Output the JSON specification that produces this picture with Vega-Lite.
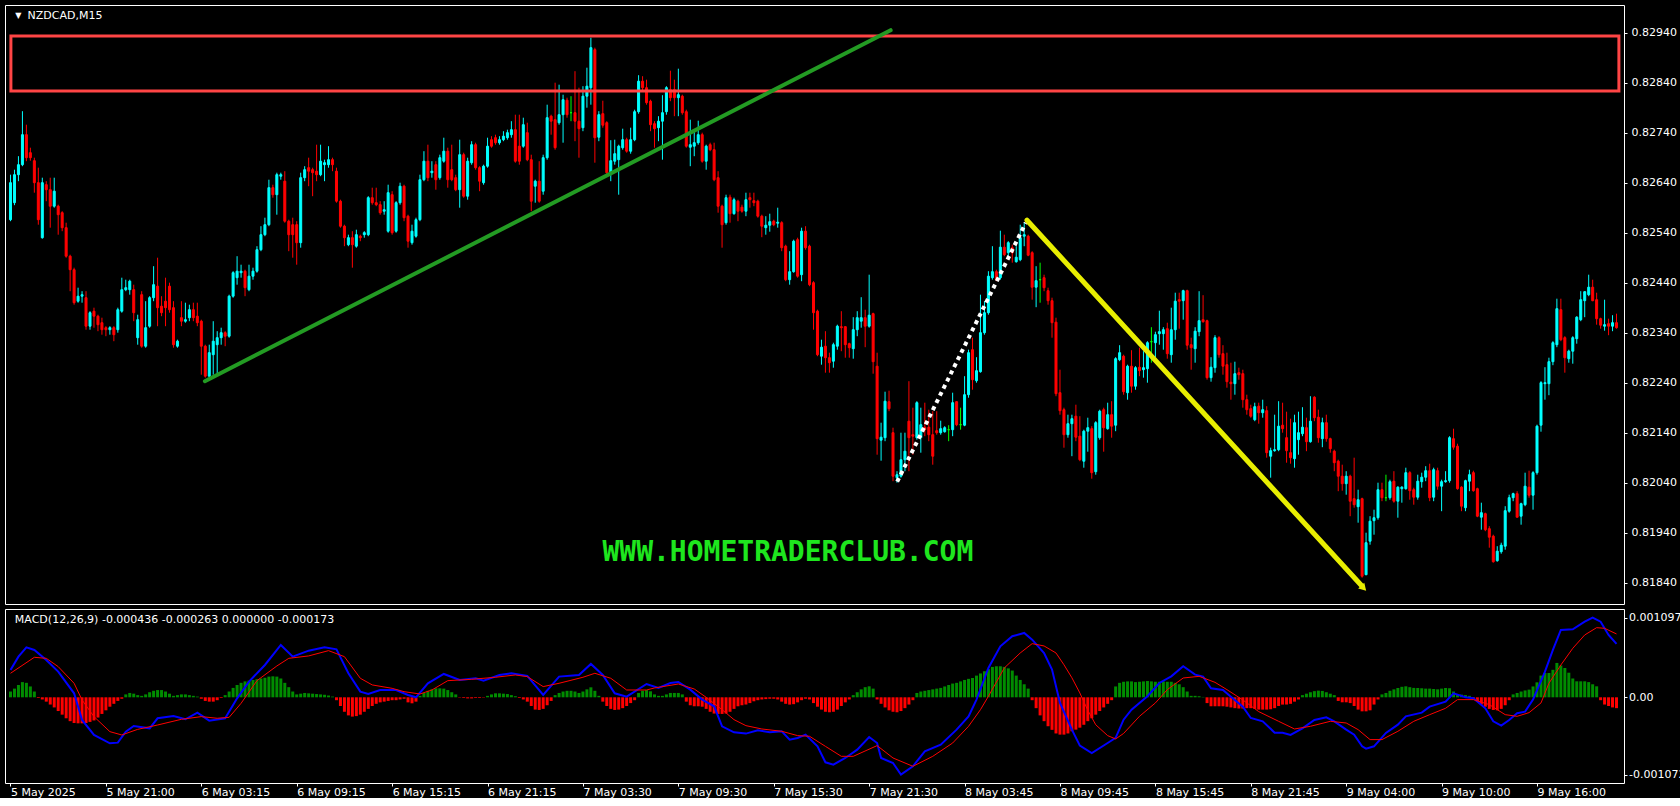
{
"$schema":"https://vega.github.io/schema/vega-lite/v6.json",
"background":"#000000",
"padding":{"left":4,"top":4,"right":0,"bottom":0},
"spacing":3,
"config":{"view":{"stroke":"#ffffff","strokeWidth":1},"font":"DejaVu Sans","axis":{"labelColor":"#ffffff","tickColor":"#ffffff","labelFont":"DejaVu Sans","labelFontSize":11,"domain":false,"grid":false,"title":null,"tickSize":3}},
"datasets":{
"candles":[
{"i":0,"o":0.82566,"h":0.82656,"l":0.82563,"c":0.82640,"m":0.000080},
{"i":1,"o":0.82600,"h":0.82666,"l":0.82595,"c":0.82656,"m":0.000120},
{"i":2,"o":0.82656,"h":0.82693,"l":0.82643,"c":0.82676,"m":0.000170},
{"i":3,"o":0.82676,"h":0.82783,"l":0.82673,"c":0.82736,"m":0.000210},
{"i":4,"o":0.82736,"h":0.82756,"l":0.82683,"c":0.82690,"m":0.000200},
{"i":5,"o":0.82700,"h":0.82710,"l":0.82684,"c":0.82690,"m":0.000150},
{"i":6,"o":0.82684,"h":0.82690,"l":0.82620,"c":0.82640,"m":0.000080},
{"i":7,"o":0.82640,"h":0.82670,"l":0.82556,"c":0.82566,"m":-0.000010},
{"i":8,"o":0.82530,"h":0.82650,"l":0.82528,"c":0.82640,"m":-0.000030},
{"i":9,"o":0.82636,"h":0.82643,"l":0.82603,"c":0.82626,"m":-0.000060},
{"i":10,"o":0.82626,"h":0.82650,"l":0.82550,"c":0.82593,"m":-0.000100},
{"i":11,"o":0.82593,"h":0.82650,"l":0.82590,"c":0.82623,"m":-0.000140},
{"i":12,"o":0.82593,"h":0.82596,"l":0.82536,"c":0.82576,"m":-0.000190},
{"i":13,"o":0.82580,"h":0.82583,"l":0.82543,"c":0.82550,"m":-0.000240},
{"i":14,"o":0.82550,"h":0.82560,"l":0.82490,"c":0.82493,"m":-0.000290},
{"i":15,"o":0.82493,"h":0.82496,"l":0.82423,"c":0.82466,"m":-0.000330},
{"i":16,"o":0.82466,"h":0.82470,"l":0.82396,"c":0.82400,"m":-0.000355},
{"i":17,"o":0.82403,"h":0.82430,"l":0.82400,"c":0.82413,"m":-0.000360},
{"i":18,"o":0.82413,"h":0.82423,"l":0.82400,"c":0.82416,"m":-0.000360},
{"i":19,"o":0.82410,"h":0.82423,"l":0.82346,"c":0.82353,"m":-0.000355},
{"i":20,"o":0.82353,"h":0.82383,"l":0.82346,"c":0.82380,"m":-0.000340},
{"i":21,"o":0.82383,"h":0.82390,"l":0.82350,"c":0.82373,"m":-0.000320},
{"i":22,"o":0.82373,"h":0.82376,"l":0.82343,"c":0.82356,"m":-0.000280},
{"i":23,"o":0.82360,"h":0.82370,"l":0.82336,"c":0.82346,"m":-0.000230},
{"i":24,"o":0.82350,"h":0.82353,"l":0.82333,"c":0.82346,"m":-0.000180},
{"i":25,"o":0.82346,"h":0.82353,"l":0.82336,"c":0.82350,"m":-0.000130},
{"i":26,"o":0.82350,"h":0.82353,"l":0.82323,"c":0.82336,"m":-0.000090},
{"i":27,"o":0.82346,"h":0.82390,"l":0.82340,"c":0.82386,"m":-0.000050},
{"i":28,"o":0.82383,"h":0.82450,"l":0.82380,"c":0.82426,"m":-0.000020},
{"i":29,"o":0.82426,"h":0.82446,"l":0.82423,"c":0.82430,"m":0.000040},
{"i":30,"o":0.82426,"h":0.82446,"l":0.82416,"c":0.82443,"m":0.000060},
{"i":31,"o":0.82426,"h":0.82436,"l":0.82363,"c":0.82380,"m":0.000050},
{"i":32,"o":0.82330,"h":0.82376,"l":0.82316,"c":0.82366,"m":0.000030},
{"i":33,"o":0.82416,"h":0.82423,"l":0.82310,"c":0.82313,"m":0.000020},
{"i":34,"o":0.82313,"h":0.82403,"l":0.82310,"c":0.82350,"m":0.000040},
{"i":35,"o":0.82353,"h":0.82413,"l":0.82350,"c":0.82410,"m":0.000070},
{"i":36,"o":0.82410,"h":0.82473,"l":0.82403,"c":0.82436,"m":0.000090},
{"i":37,"o":0.82433,"h":0.82490,"l":0.82353,"c":0.82390,"m":0.000100},
{"i":38,"o":0.82393,"h":0.82413,"l":0.82373,"c":0.82380,"m":0.000100},
{"i":39,"o":0.82403,"h":0.82450,"l":0.82353,"c":0.82390,"m":0.000080},
{"i":40,"o":0.82433,"h":0.82440,"l":0.82380,"c":0.82386,"m":0.000050},
{"i":41,"o":0.82390,"h":0.82403,"l":0.82310,"c":0.82316,"m":0.000020},
{"i":42,"o":0.82313,"h":0.82326,"l":0.82310,"c":0.82323,"m":0.000030},
{"i":43,"o":0.82370,"h":0.82403,"l":0.82353,"c":0.82363,"m":0.000040},
{"i":44,"o":0.82363,"h":0.82400,"l":0.82360,"c":0.82366,"m":0.000040},
{"i":45,"o":0.82370,"h":0.82396,"l":0.82363,"c":0.82386,"m":0.000030},
{"i":46,"o":0.82386,"h":0.82400,"l":0.82363,"c":0.82370,"m":0.000020},
{"i":47,"o":0.82373,"h":0.82400,"l":0.82353,"c":0.82360,"m":0.000010},
{"i":48,"o":0.82363,"h":0.82366,"l":0.82256,"c":0.82313,"m":-0.000020},
{"i":49,"o":0.82313,"h":0.82316,"l":0.82250,"c":0.82253,"m":-0.000050},
{"i":50,"o":0.82253,"h":0.82316,"l":0.82250,"c":0.82300,"m":-0.000060},
{"i":51,"o":0.82296,"h":0.82363,"l":0.82256,"c":0.82323,"m":-0.000060},
{"i":52,"o":0.82316,"h":0.82343,"l":0.82256,"c":0.82330,"m":-0.000040},
{"i":53,"o":0.82330,"h":0.82350,"l":0.82316,"c":0.82340,"m":-0.000010},
{"i":54,"o":0.82340,"h":0.82343,"l":0.82313,"c":0.82333,"m":0.000030},
{"i":55,"o":0.82333,"h":0.82416,"l":0.82330,"c":0.82413,"m":0.000080},
{"i":56,"o":0.82413,"h":0.82463,"l":0.82410,"c":0.82460,"m":0.000130},
{"i":57,"o":0.82450,"h":0.82493,"l":0.82436,"c":0.82463,"m":0.000170},
{"i":58,"o":0.82460,"h":0.82476,"l":0.82450,"c":0.82463,"m":0.000200},
{"i":59,"o":0.82463,"h":0.82466,"l":0.82413,"c":0.82430,"m":0.000220},
{"i":60,"o":0.82426,"h":0.82476,"l":0.82423,"c":0.82453,"m":0.000230},
{"i":61,"o":0.82453,"h":0.82470,"l":0.82446,"c":0.82463,"m":0.000240},
{"i":62,"o":0.82463,"h":0.82513,"l":0.82460,"c":0.82506,"m":0.000250},
{"i":63,"o":0.82506,"h":0.82553,"l":0.82503,"c":0.82536,"m":0.000260},
{"i":64,"o":0.82536,"h":0.82570,"l":0.82533,"c":0.82556,"m":0.000270},
{"i":65,"o":0.82556,"h":0.82646,"l":0.82553,"c":0.82630,"m":0.000286},
{"i":66,"o":0.82630,"h":0.82636,"l":0.82610,"c":0.82616,"m":0.000290},
{"i":67,"o":0.82616,"h":0.82660,"l":0.82576,"c":0.82656,"m":0.000286},
{"i":68,"o":0.82653,"h":0.82660,"l":0.82646,"c":0.82656,"m":0.000260},
{"i":69,"o":0.82643,"h":0.82663,"l":0.82560,"c":0.82563,"m":0.000200},
{"i":70,"o":0.82563,"h":0.82566,"l":0.82503,"c":0.82536,"m":0.000140},
{"i":71,"o":0.82556,"h":0.82570,"l":0.82490,"c":0.82536,"m":0.000080},
{"i":72,"o":0.82556,"h":0.82563,"l":0.82476,"c":0.82520,"m":0.000040},
{"i":73,"o":0.82520,"h":0.82660,"l":0.82510,"c":0.82650,"m":0.000050},
{"i":74,"o":0.82650,"h":0.82673,"l":0.82643,"c":0.82666,"m":0.000060},
{"i":75,"o":0.82670,"h":0.82690,"l":0.82633,"c":0.82663,"m":0.000055},
{"i":76,"o":0.82666,"h":0.82670,"l":0.82613,"c":0.82660,"m":0.000050},
{"i":77,"o":0.82663,"h":0.82716,"l":0.82643,"c":0.82656,"m":0.000045},
{"i":78,"o":0.82656,"h":0.82716,"l":0.82653,"c":0.82683,"m":0.000040},
{"i":79,"o":0.82676,"h":0.82686,"l":0.82643,"c":0.82680,"m":0.000035},
{"i":80,"o":0.82676,"h":0.82713,"l":0.82670,"c":0.82686,"m":0.000025},
{"i":81,"o":0.82686,"h":0.82690,"l":0.82663,"c":0.82676,"m":0.000010},
{"i":82,"o":0.82663,"h":0.82670,"l":0.82600,"c":0.82603,"m":-0.000040},
{"i":83,"o":0.82603,"h":0.82606,"l":0.82550,"c":0.82553,"m":-0.000120},
{"i":84,"o":0.82553,"h":0.82556,"l":0.82513,"c":0.82530,"m":-0.000200},
{"i":85,"o":0.82516,"h":0.82536,"l":0.82513,"c":0.82530,"m":-0.000250},
{"i":86,"o":0.82530,"h":0.82543,"l":0.82470,"c":0.82516,"m":-0.000267},
{"i":87,"o":0.82513,"h":0.82546,"l":0.82510,"c":0.82536,"m":-0.000260},
{"i":88,"o":0.82533,"h":0.82536,"l":0.82523,"c":0.82530,"m":-0.000240},
{"i":89,"o":0.82536,"h":0.82543,"l":0.82530,"c":0.82540,"m":-0.000200},
{"i":90,"o":0.82536,"h":0.82613,"l":0.82533,"c":0.82610,"m":-0.000160},
{"i":91,"o":0.82610,"h":0.82630,"l":0.82596,"c":0.82600,"m":-0.000120},
{"i":92,"o":0.82600,"h":0.82630,"l":0.82593,"c":0.82596,"m":-0.000090},
{"i":93,"o":0.82596,"h":0.82603,"l":0.82576,"c":0.82580,"m":-0.000070},
{"i":94,"o":0.82583,"h":0.82603,"l":0.82576,"c":0.82586,"m":-0.000060},
{"i":95,"o":0.82543,"h":0.82636,"l":0.82540,"c":0.82620,"m":-0.000050},
{"i":96,"o":0.82616,"h":0.82623,"l":0.82536,"c":0.82540,"m":-0.000040},
{"i":97,"o":0.82543,"h":0.82603,"l":0.82540,"c":0.82600,"m":-0.000040},
{"i":98,"o":0.82600,"h":0.82640,"l":0.82596,"c":0.82633,"m":-0.000030},
{"i":99,"o":0.82633,"h":0.82636,"l":0.82563,"c":0.82570,"m":-0.000020},
{"i":100,"o":0.82573,"h":0.82576,"l":0.82510,"c":0.82523,"m":-0.000070},
{"i":101,"o":0.82520,"h":0.82556,"l":0.82516,"c":0.82543,"m":-0.000083},
{"i":102,"o":0.82533,"h":0.82570,"l":0.82530,"c":0.82566,"m":-0.000060},
{"i":103,"o":0.82566,"h":0.82656,"l":0.82563,"c":0.82646,"m":0.000020},
{"i":104,"o":0.82646,"h":0.82703,"l":0.82643,"c":0.82683,"m":0.000060},
{"i":105,"o":0.82683,"h":0.82716,"l":0.82643,"c":0.82650,"m":0.000090},
{"i":106,"o":0.82660,"h":0.82683,"l":0.82650,"c":0.82663,"m":0.000110},
{"i":107,"o":0.82676,"h":0.82683,"l":0.82626,"c":0.82646,"m":0.000124},
{"i":108,"o":0.82650,"h":0.82696,"l":0.82646,"c":0.82690,"m":0.000124},
{"i":109,"o":0.82683,"h":0.82730,"l":0.82680,"c":0.82703,"m":0.000120},
{"i":110,"o":0.82703,"h":0.82710,"l":0.82630,"c":0.82646,"m":0.000100},
{"i":111,"o":0.82666,"h":0.82716,"l":0.82643,"c":0.82646,"m":0.000070},
{"i":112,"o":0.82650,"h":0.82656,"l":0.82623,"c":0.82626,"m":0.000040},
{"i":113,"o":0.82626,"h":0.82726,"l":0.82590,"c":0.82696,"m":-0.000005},
{"i":114,"o":0.82696,"h":0.82700,"l":0.82610,"c":0.82613,"m":-0.000010},
{"i":115,"o":0.82613,"h":0.82690,"l":0.82606,"c":0.82683,"m":-0.000015},
{"i":116,"o":0.82680,"h":0.82723,"l":0.82676,"c":0.82716,"m":-0.000015},
{"i":117,"o":0.82716,"h":0.82720,"l":0.82666,"c":0.82670,"m":-0.000010},
{"i":118,"o":0.82670,"h":0.82673,"l":0.82623,"c":0.82643,"m":-0.000010},
{"i":119,"o":0.82640,"h":0.82676,"l":0.82636,"c":0.82673,"m":-0.000005},
{"i":120,"o":0.82673,"h":0.82730,"l":0.82670,"c":0.82713,"m":0.000020},
{"i":121,"o":0.82726,"h":0.82733,"l":0.82710,"c":0.82713,"m":0.000040},
{"i":122,"o":0.82730,"h":0.82736,"l":0.82716,"c":0.82720,"m":0.000055},
{"i":123,"o":0.82720,"h":0.82733,"l":0.82716,"c":0.82726,"m":0.000055},
{"i":124,"o":0.82726,"h":0.82743,"l":0.82723,"c":0.82733,"m":0.000050},
{"i":125,"o":0.82730,"h":0.82746,"l":0.82726,"c":0.82740,"m":0.000045},
{"i":126,"o":0.82736,"h":0.82763,"l":0.82730,"c":0.82746,"m":0.000030},
{"i":127,"o":0.82746,"h":0.82776,"l":0.82680,"c":0.82683,"m":0.000015},
{"i":128,"o":0.82713,"h":0.82776,"l":0.82676,"c":0.82683,"m":-0.000010},
{"i":129,"o":0.82713,"h":0.82770,"l":0.82710,"c":0.82756,"m":-0.000030},
{"i":130,"o":0.82740,"h":0.82760,"l":0.82683,"c":0.82686,"m":-0.000060},
{"i":131,"o":0.82686,"h":0.82696,"l":0.82583,"c":0.82603,"m":-0.000120},
{"i":132,"o":0.82633,"h":0.82646,"l":0.82600,"c":0.82643,"m":-0.000170},
{"i":133,"o":0.82643,"h":0.82683,"l":0.82600,"c":0.82603,"m":-0.000175},
{"i":134,"o":0.82623,"h":0.82696,"l":0.82616,"c":0.82690,"m":-0.000160},
{"i":135,"o":0.82690,"h":0.82796,"l":0.82686,"c":0.82770,"m":-0.000110},
{"i":136,"o":0.82773,"h":0.82776,"l":0.82736,"c":0.82763,"m":-0.000050},
{"i":137,"o":0.82766,"h":0.82840,"l":0.82706,"c":0.82710,"m":0.000030},
{"i":138,"o":0.82760,"h":0.82836,"l":0.82756,"c":0.82776,"m":0.000060},
{"i":139,"o":0.82776,"h":0.82816,"l":0.82720,"c":0.82806,"m":0.000080},
{"i":140,"o":0.82805,"h":0.82810,"l":0.82770,"c":0.82776,"m":0.000090},
{"i":141,"o":0.82780,"h":0.82813,"l":0.82763,"c":0.82780,"m":0.000090},
{"i":142,"o":0.82780,"h":0.82863,"l":0.82723,"c":0.82763,"m":0.000080},
{"i":143,"o":0.82763,"h":0.82830,"l":0.82690,"c":0.82748,"m":0.000060},
{"i":144,"o":0.82750,"h":0.82833,"l":0.82743,"c":0.82813,"m":0.000080},
{"i":145,"o":0.82813,"h":0.82870,"l":0.82790,"c":0.82833,"m":0.000110},
{"i":146,"o":0.82830,"h":0.82930,"l":0.82796,"c":0.82910,"m":0.000138},
{"i":147,"o":0.82906,"h":0.82910,"l":0.82680,"c":0.82730,"m":0.000090},
{"i":148,"o":0.82731,"h":0.82783,"l":0.82723,"c":0.82776,"m":0.000020},
{"i":149,"o":0.82778,"h":0.82804,"l":0.82750,"c":0.82755,"m":-0.000060},
{"i":150,"o":0.82760,"h":0.82763,"l":0.82656,"c":0.82660,"m":-0.000120},
{"i":151,"o":0.82660,"h":0.82725,"l":0.82643,"c":0.82684,"m":-0.000160},
{"i":152,"o":0.82683,"h":0.82726,"l":0.82676,"c":0.82698,"m":-0.000175},
{"i":153,"o":0.82686,"h":0.82716,"l":0.82616,"c":0.82713,"m":-0.000170},
{"i":154,"o":0.82710,"h":0.82748,"l":0.82706,"c":0.82726,"m":-0.000150},
{"i":155,"o":0.82726,"h":0.82730,"l":0.82700,"c":0.82703,"m":-0.000120},
{"i":156,"o":0.82703,"h":0.82750,"l":0.82698,"c":0.82726,"m":-0.000080},
{"i":157,"o":0.82726,"h":0.82786,"l":0.82723,"c":0.82782,"m":-0.000040},
{"i":158,"o":0.82782,"h":0.82855,"l":0.82778,"c":0.82843,"m":0.000060},
{"i":159,"o":0.82843,"h":0.82853,"l":0.82823,"c":0.82830,"m":0.000090},
{"i":160,"o":0.82830,"h":0.82846,"l":0.82796,"c":0.82800,"m":0.000100},
{"i":161,"o":0.82803,"h":0.82806,"l":0.82743,"c":0.82756,"m":0.000083},
{"i":162,"o":0.82758,"h":0.82763,"l":0.82710,"c":0.82748,"m":0.000040},
{"i":163,"o":0.82750,"h":0.82773,"l":0.82723,"c":0.82763,"m":0.000020},
{"i":164,"o":0.82763,"h":0.82815,"l":0.82686,"c":0.82780,"m":0.000020},
{"i":165,"o":0.82782,"h":0.82833,"l":0.82776,"c":0.82830,"m":0.000040},
{"i":166,"o":0.82826,"h":0.82864,"l":0.82803,"c":0.82810,"m":0.000060},
{"i":167,"o":0.82826,"h":0.82846,"l":0.82773,"c":0.82810,"m":0.000060},
{"i":168,"o":0.82810,"h":0.82868,"l":0.82773,"c":0.82816,"m":0.000060},
{"i":169,"o":0.82813,"h":0.82816,"l":0.82776,"c":0.82780,"m":0.000040},
{"i":170,"o":0.82782,"h":0.82786,"l":0.82710,"c":0.82713,"m":-0.000060},
{"i":171,"o":0.82711,"h":0.82766,"l":0.82673,"c":0.82716,"m":-0.000110},
{"i":172,"o":0.82713,"h":0.82743,"l":0.82693,"c":0.82720,"m":-0.000124},
{"i":173,"o":0.82720,"h":0.82764,"l":0.82716,"c":0.82736,"m":-0.000124},
{"i":174,"o":0.82736,"h":0.82740,"l":0.82680,"c":0.82683,"m":-0.000130},
{"i":175,"o":0.82683,"h":0.82716,"l":0.82666,"c":0.82713,"m":-0.000160},
{"i":176,"o":0.82716,"h":0.82720,"l":0.82703,"c":0.82706,"m":-0.000200},
{"i":177,"o":0.82706,"h":0.82720,"l":0.82643,"c":0.82646,"m":-0.000225},
{"i":178,"o":0.82650,"h":0.82663,"l":0.82580,"c":0.82593,"m":-0.000230},
{"i":179,"o":0.82593,"h":0.82596,"l":0.82510,"c":0.82556,"m":-0.000230},
{"i":180,"o":0.82560,"h":0.82616,"l":0.82556,"c":0.82610,"m":-0.000225},
{"i":181,"o":0.82611,"h":0.82616,"l":0.82560,"c":0.82578,"m":-0.000200},
{"i":182,"o":0.82578,"h":0.82610,"l":0.82576,"c":0.82606,"m":-0.000160},
{"i":183,"o":0.82603,"h":0.82606,"l":0.82563,"c":0.82583,"m":-0.000124},
{"i":184,"o":0.82591,"h":0.82596,"l":0.82580,"c":0.82583,"m":-0.000110},
{"i":185,"o":0.82583,"h":0.82620,"l":0.82573,"c":0.82606,"m":-0.000100},
{"i":186,"o":0.82610,"h":0.82620,"l":0.82590,"c":0.82606,"m":-0.000080},
{"i":187,"o":0.82604,"h":0.82620,"l":0.82593,"c":0.82600,"m":-0.000055},
{"i":188,"o":0.82603,"h":0.82606,"l":0.82570,"c":0.82573,"m":-0.000040},
{"i":189,"o":0.82573,"h":0.82576,"l":0.82531,"c":0.82553,"m":-0.000030},
{"i":190,"o":0.82550,"h":0.82573,"l":0.82536,"c":0.82555,"m":-0.000025},
{"i":191,"o":0.82555,"h":0.82578,"l":0.82542,"c":0.82562,"m":-0.000020},
{"i":192,"o":0.82563,"h":0.82566,"l":0.82553,"c":0.82556,"m":-0.000020},
{"i":193,"o":0.82559,"h":0.82590,"l":0.82550,"c":0.82561,"m":-0.000030},
{"i":194,"o":0.82560,"h":0.82563,"l":0.82503,"c":0.82510,"m":-0.000060},
{"i":195,"o":0.82513,"h":0.82516,"l":0.82443,"c":0.82446,"m":-0.000090},
{"i":196,"o":0.82446,"h":0.82503,"l":0.82436,"c":0.82462,"m":-0.000101},
{"i":197,"o":0.82462,"h":0.82526,"l":0.82460,"c":0.82523,"m":-0.000095},
{"i":198,"o":0.82526,"h":0.82530,"l":0.82450,"c":0.82453,"m":-0.000070},
{"i":199,"o":0.82456,"h":0.82550,"l":0.82443,"c":0.82543,"m":-0.000040},
{"i":200,"o":0.82543,"h":0.82553,"l":0.82506,"c":0.82510,"m":-0.000020},
{"i":201,"o":0.82513,"h":0.82516,"l":0.82433,"c":0.82436,"m":-0.000030},
{"i":202,"o":0.82440,"h":0.82443,"l":0.82346,"c":0.82380,"m":-0.000080},
{"i":203,"o":0.82383,"h":0.82386,"l":0.82293,"c":0.82296,"m":-0.000130},
{"i":204,"o":0.82293,"h":0.82326,"l":0.82276,"c":0.82311,"m":-0.000170},
{"i":205,"o":0.82313,"h":0.82343,"l":0.82260,"c":0.82290,"m":-0.000200},
{"i":206,"o":0.82290,"h":0.82300,"l":0.82260,"c":0.82280,"m":-0.000207},
{"i":207,"o":0.82283,"h":0.82320,"l":0.82270,"c":0.82316,"m":-0.000200},
{"i":208,"o":0.82313,"h":0.82356,"l":0.82306,"c":0.82353,"m":-0.000170},
{"i":209,"o":0.82352,"h":0.82383,"l":0.82303,"c":0.82350,"m":-0.000120},
{"i":210,"o":0.82352,"h":0.82353,"l":0.82290,"c":0.82316,"m":-0.000070},
{"i":211,"o":0.82318,"h":0.82320,"l":0.82290,"c":0.82310,"m":-0.000030},
{"i":212,"o":0.82308,"h":0.82371,"l":0.82288,"c":0.82346,"m":0.000030},
{"i":213,"o":0.82346,"h":0.82383,"l":0.82333,"c":0.82370,"m":0.000070},
{"i":214,"o":0.82363,"h":0.82411,"l":0.82350,"c":0.82370,"m":0.000110},
{"i":215,"o":0.82370,"h":0.82386,"l":0.82311,"c":0.82353,"m":0.000140},
{"i":216,"o":0.82353,"h":0.82456,"l":0.82350,"c":0.82375,"m":0.000152},
{"i":217,"o":0.82378,"h":0.82380,"l":0.82258,"c":0.82282,"m":0.000120},
{"i":218,"o":0.82273,"h":0.82300,"l":0.82096,"c":0.82128,"m":-0.000030},
{"i":219,"o":0.82125,"h":0.82160,"l":0.82084,"c":0.82131,"m":-0.000090},
{"i":220,"o":0.82130,"h":0.82222,"l":0.82123,"c":0.82203,"m":-0.000140},
{"i":221,"o":0.82202,"h":0.82224,"l":0.82183,"c":0.82188,"m":-0.000180},
{"i":222,"o":0.82140,"h":0.82150,"l":0.82043,"c":0.82053,"m":-0.000200},
{"i":223,"o":0.82050,"h":0.82063,"l":0.82040,"c":0.82056,"m":-0.000207},
{"i":224,"o":0.82053,"h":0.82140,"l":0.82050,"c":0.82086,"m":-0.000190},
{"i":225,"o":0.82086,"h":0.82140,"l":0.82063,"c":0.82103,"m":-0.000150},
{"i":226,"o":0.82163,"h":0.82243,"l":0.82063,"c":0.82130,"m":-0.000100},
{"i":227,"o":0.82136,"h":0.82190,"l":0.82096,"c":0.82133,"m":-0.000040},
{"i":228,"o":0.82130,"h":0.82203,"l":0.82126,"c":0.82200,"m":0.000060},
{"i":229,"o":0.82130,"h":0.82190,"l":0.82100,"c":0.82156,"m":0.000080},
{"i":230,"o":0.82151,"h":0.82200,"l":0.82133,"c":0.82146,"m":0.000090},
{"i":231,"o":0.82151,"h":0.82186,"l":0.82123,"c":0.82136,"m":0.000100},
{"i":232,"o":0.82136,"h":0.82183,"l":0.82076,"c":0.82093,"m":0.000110},
{"i":233,"o":0.82144,"h":0.82183,"l":0.82136,"c":0.82140,"m":0.000120},
{"i":234,"o":0.82140,"h":0.82164,"l":0.82136,"c":0.82148,"m":0.000130},
{"i":235,"o":0.82142,"h":0.82153,"l":0.82140,"c":0.82150,"m":0.000150},
{"i":236,"o":0.82146,"h":0.82155,"l":0.82123,"c":0.82146,"m":0.000170},
{"i":237,"o":0.82146,"h":0.82220,"l":0.82133,"c":0.82200,"m":0.000190},
{"i":238,"o":0.82202,"h":0.82203,"l":0.82153,"c":0.82156,"m":0.000200},
{"i":239,"o":0.82156,"h":0.82190,"l":0.82146,"c":0.82156,"m":0.000220},
{"i":240,"o":0.82155,"h":0.82253,"l":0.82153,"c":0.82216,"m":0.000240},
{"i":241,"o":0.82216,"h":0.82306,"l":0.82210,"c":0.82300,"m":0.000255},
{"i":242,"o":0.82306,"h":0.82330,"l":0.82226,"c":0.82246,"m":0.000267},
{"i":243,"o":0.82244,"h":0.82291,"l":0.82240,"c":0.82264,"m":0.000300},
{"i":244,"o":0.82262,"h":0.82416,"l":0.82260,"c":0.82340,"m":0.000330},
{"i":245,"o":0.82340,"h":0.82403,"l":0.82336,"c":0.82380,"m":0.000360},
{"i":246,"o":0.82380,"h":0.82463,"l":0.82376,"c":0.82453,"m":0.000390},
{"i":247,"o":0.82450,"h":0.82513,"l":0.82446,"c":0.82462,"m":0.000420},
{"i":248,"o":0.82462,"h":0.82466,"l":0.82443,"c":0.82446,"m":0.000429},
{"i":249,"o":0.82450,"h":0.82544,"l":0.82446,"c":0.82511,"m":0.000429},
{"i":250,"o":0.82511,"h":0.82536,"l":0.82493,"c":0.82496,"m":0.000420},
{"i":251,"o":0.82500,"h":0.82523,"l":0.82493,"c":0.82520,"m":0.000400},
{"i":252,"o":0.82510,"h":0.82516,"l":0.82480,"c":0.82500,"m":0.000370},
{"i":253,"o":0.82482,"h":0.82513,"l":0.82480,"c":0.82491,"m":0.000300},
{"i":254,"o":0.82486,"h":0.82556,"l":0.82483,"c":0.82530,"m":0.000240},
{"i":255,"o":0.82533,"h":0.82560,"l":0.82513,"c":0.82536,"m":0.000180},
{"i":256,"o":0.82533,"h":0.82536,"l":0.82493,"c":0.82495,"m":0.000120},
{"i":257,"o":0.82500,"h":0.82503,"l":0.82406,"c":0.82431,"m":-0.000040},
{"i":258,"o":0.82431,"h":0.82473,"l":0.82391,"c":0.82444,"m":-0.000150},
{"i":259,"o":0.82446,"h":0.82480,"l":0.82400,"c":0.82446,"m":-0.000250},
{"i":260,"o":0.82450,"h":0.82456,"l":0.82423,"c":0.82430,"m":-0.000330},
{"i":261,"o":0.82424,"h":0.82430,"l":0.82396,"c":0.82404,"m":-0.000400},
{"i":262,"o":0.82404,"h":0.82410,"l":0.82330,"c":0.82360,"m":-0.000450},
{"i":263,"o":0.82361,"h":0.82370,"l":0.82213,"c":0.82218,"m":-0.000500},
{"i":264,"o":0.82220,"h":0.82266,"l":0.82176,"c":0.82184,"m":-0.000516},
{"i":265,"o":0.82186,"h":0.82190,"l":0.82110,"c":0.82136,"m":-0.000516},
{"i":266,"o":0.82136,"h":0.82176,"l":0.82130,"c":0.82158,"m":-0.000500},
{"i":267,"o":0.82158,"h":0.82176,"l":0.82093,"c":0.82168,"m":-0.000470},
{"i":268,"o":0.82173,"h":0.82196,"l":0.82123,"c":0.82131,"m":-0.000447},
{"i":269,"o":0.82133,"h":0.82173,"l":0.82083,"c":0.82086,"m":-0.000420},
{"i":270,"o":0.82083,"h":0.82146,"l":0.82070,"c":0.82143,"m":-0.000380},
{"i":271,"o":0.82143,"h":0.82170,"l":0.82102,"c":0.82150,"m":-0.000330},
{"i":272,"o":0.82148,"h":0.82153,"l":0.82048,"c":0.82060,"m":-0.000290},
{"i":273,"o":0.82062,"h":0.82163,"l":0.82056,"c":0.82160,"m":-0.000240},
{"i":274,"o":0.82130,"h":0.82186,"l":0.82126,"c":0.82183,"m":-0.000190},
{"i":275,"o":0.82186,"h":0.82190,"l":0.82102,"c":0.82150,"m":-0.000140},
{"i":276,"o":0.82148,"h":0.82200,"l":0.82146,"c":0.82176,"m":-0.000090},
{"i":277,"o":0.82176,"h":0.82203,"l":0.82130,"c":0.82153,"m":-0.000040},
{"i":278,"o":0.82155,"h":0.82291,"l":0.82143,"c":0.82288,"m":0.000150},
{"i":279,"o":0.82286,"h":0.82315,"l":0.82283,"c":0.82300,"m":0.000200},
{"i":280,"o":0.82293,"h":0.82296,"l":0.82216,"c":0.82222,"m":0.000215},
{"i":281,"o":0.82220,"h":0.82276,"l":0.82206,"c":0.82273,"m":0.000220},
{"i":282,"o":0.82273,"h":0.82305,"l":0.82220,"c":0.82233,"m":0.000220},
{"i":283,"o":0.82233,"h":0.82273,"l":0.82226,"c":0.82270,"m":0.000210},
{"i":284,"o":0.82271,"h":0.82310,"l":0.82253,"c":0.82264,"m":0.000215},
{"i":285,"o":0.82266,"h":0.82303,"l":0.82250,"c":0.82270,"m":0.000220},
{"i":286,"o":0.82268,"h":0.82323,"l":0.82240,"c":0.82320,"m":0.000225},
{"i":287,"o":0.82322,"h":0.82351,"l":0.82280,"c":0.82322,"m":0.000220},
{"i":288,"o":0.82320,"h":0.82342,"l":0.82290,"c":0.82336,"m":0.000215},
{"i":289,"o":0.82338,"h":0.82384,"l":0.82316,"c":0.82342,"m":0.000215},
{"i":290,"o":0.82338,"h":0.82351,"l":0.82306,"c":0.82346,"m":0.000220},
{"i":291,"o":0.82348,"h":0.82360,"l":0.82288,"c":0.82298,"m":0.000215},
{"i":292,"o":0.82296,"h":0.82390,"l":0.82280,"c":0.82346,"m":0.000215},
{"i":293,"o":0.82346,"h":0.82420,"l":0.82326,"c":0.82403,"m":0.000200},
{"i":294,"o":0.82406,"h":0.82420,"l":0.82348,"c":0.82403,"m":0.000180},
{"i":295,"o":0.82404,"h":0.82426,"l":0.82366,"c":0.82424,"m":0.000140},
{"i":296,"o":0.82424,"h":0.82426,"l":0.82306,"c":0.82315,"m":0.000080},
{"i":297,"o":0.82316,"h":0.82330,"l":0.82266,"c":0.82310,"m":0.000020},
{"i":298,"o":0.82308,"h":0.82351,"l":0.82280,"c":0.82343,"m":0.000020},
{"i":299,"o":0.82342,"h":0.82423,"l":0.82333,"c":0.82364,"m":0.000015},
{"i":300,"o":0.82366,"h":0.82415,"l":0.82360,"c":0.82362,"m":0.000005},
{"i":301,"o":0.82364,"h":0.82366,"l":0.82246,"c":0.82250,"m":-0.000080},
{"i":302,"o":0.82250,"h":0.82291,"l":0.82242,"c":0.82271,"m":-0.000124},
{"i":303,"o":0.82270,"h":0.82335,"l":0.82260,"c":0.82330,"m":-0.000124},
{"i":304,"o":0.82330,"h":0.82333,"l":0.82290,"c":0.82296,"m":-0.000124},
{"i":305,"o":0.82298,"h":0.82315,"l":0.82256,"c":0.82273,"m":-0.000124},
{"i":306,"o":0.82276,"h":0.82300,"l":0.82230,"c":0.82242,"m":-0.000130},
{"i":307,"o":0.82241,"h":0.82280,"l":0.82206,"c":0.82238,"m":-0.000140},
{"i":308,"o":0.82238,"h":0.82282,"l":0.82216,"c":0.82258,"m":-0.000150},
{"i":309,"o":0.82260,"h":0.82270,"l":0.82246,"c":0.82256,"m":-0.000155},
{"i":310,"o":0.82258,"h":0.82266,"l":0.82190,"c":0.82206,"m":-0.000155},
{"i":311,"o":0.82206,"h":0.82216,"l":0.82176,"c":0.82186,"m":-0.000150},
{"i":312,"o":0.82188,"h":0.82196,"l":0.82170,"c":0.82173,"m":-0.000150},
{"i":313,"o":0.82166,"h":0.82200,"l":0.82163,"c":0.82192,"m":-0.000160},
{"i":314,"o":0.82193,"h":0.82200,"l":0.82158,"c":0.82180,"m":-0.000170},
{"i":315,"o":0.82180,"h":0.82206,"l":0.82170,"c":0.82186,"m":-0.000170},
{"i":316,"o":0.82184,"h":0.82193,"l":0.82090,"c":0.82100,"m":-0.000170},
{"i":317,"o":0.82093,"h":0.82110,"l":0.82050,"c":0.82104,"m":-0.000165},
{"i":318,"o":0.82104,"h":0.82176,"l":0.82102,"c":0.82106,"m":-0.000150},
{"i":319,"o":0.82106,"h":0.82203,"l":0.82103,"c":0.82153,"m":-0.000120},
{"i":320,"o":0.82155,"h":0.82200,"l":0.82140,"c":0.82148,"m":-0.000101},
{"i":321,"o":0.82130,"h":0.82182,"l":0.82080,"c":0.82104,"m":-0.000100},
{"i":322,"o":0.82100,"h":0.82168,"l":0.82078,"c":0.82090,"m":-0.000090},
{"i":323,"o":0.82088,"h":0.82176,"l":0.82070,"c":0.82160,"m":-0.000060},
{"i":324,"o":0.82126,"h":0.82182,"l":0.82096,"c":0.82140,"m":-0.000030},
{"i":325,"o":0.82138,"h":0.82191,"l":0.82133,"c":0.82151,"m":0.000030},
{"i":326,"o":0.82150,"h":0.82170,"l":0.82103,"c":0.82122,"m":0.000050},
{"i":327,"o":0.82122,"h":0.82213,"l":0.82120,"c":0.82163,"m":0.000070},
{"i":328,"o":0.82211,"h":0.82213,"l":0.82163,"c":0.82170,"m":0.000085},
{"i":329,"o":0.82171,"h":0.82186,"l":0.82120,"c":0.82130,"m":0.000092},
{"i":330,"o":0.82128,"h":0.82170,"l":0.82111,"c":0.82160,"m":0.000088},
{"i":331,"o":0.82160,"h":0.82176,"l":0.82122,"c":0.82128,"m":0.000070},
{"i":332,"o":0.82128,"h":0.82130,"l":0.82100,"c":0.82108,"m":0.000050},
{"i":333,"o":0.82103,"h":0.82106,"l":0.82063,"c":0.82080,"m":0.000030},
{"i":334,"o":0.82083,"h":0.82086,"l":0.82023,"c":0.82053,"m":-0.000050},
{"i":335,"o":0.82053,"h":0.82076,"l":0.82024,"c":0.82038,"m":-0.000069},
{"i":336,"o":0.82038,"h":0.82063,"l":0.82016,"c":0.82053,"m":-0.000069},
{"i":337,"o":0.82053,"h":0.82056,"l":0.81973,"c":0.82003,"m":-0.000080},
{"i":338,"o":0.82008,"h":0.82090,"l":0.81990,"c":0.81996,"m":-0.000120},
{"i":339,"o":0.81992,"h":0.82026,"l":0.81960,"c":0.82006,"m":-0.000170},
{"i":340,"o":0.82008,"h":0.82010,"l":0.81850,"c":0.81853,"m":-0.000194},
{"i":341,"o":0.81856,"h":0.81940,"l":0.81855,"c":0.81920,"m":-0.000194},
{"i":342,"o":0.81923,"h":0.81973,"l":0.81916,"c":0.81963,"m":-0.000180},
{"i":343,"o":0.81964,"h":0.81986,"l":0.81936,"c":0.81970,"m":-0.000100},
{"i":344,"o":0.81970,"h":0.82040,"l":0.81966,"c":0.82026,"m":-0.000030},
{"i":345,"o":0.82026,"h":0.82040,"l":0.82003,"c":0.82010,"m":0.000040},
{"i":346,"o":0.82010,"h":0.82056,"l":0.82003,"c":0.82010,"m":0.000060},
{"i":347,"o":0.82010,"h":0.82046,"l":0.82006,"c":0.82042,"m":0.000090},
{"i":348,"o":0.82043,"h":0.82063,"l":0.82000,"c":0.82003,"m":0.000110},
{"i":349,"o":0.82003,"h":0.82033,"l":0.81970,"c":0.82031,"m":0.000129},
{"i":350,"o":0.82028,"h":0.82033,"l":0.82000,"c":0.82031,"m":0.000145},
{"i":351,"o":0.82028,"h":0.82070,"l":0.82026,"c":0.82060,"m":0.000152},
{"i":352,"o":0.82060,"h":0.82063,"l":0.82006,"c":0.82024,"m":0.000140},
{"i":353,"o":0.82026,"h":0.82030,"l":0.81996,"c":0.82011,"m":0.000130},
{"i":354,"o":0.82011,"h":0.82056,"l":0.82006,"c":0.82043,"m":0.000129},
{"i":355,"o":0.82042,"h":0.82060,"l":0.82030,"c":0.82051,"m":0.000125},
{"i":356,"o":0.82051,"h":0.82073,"l":0.82043,"c":0.82064,"m":0.000120},
{"i":357,"o":0.82064,"h":0.82078,"l":0.82003,"c":0.82010,"m":0.000120},
{"i":358,"o":0.82011,"h":0.82070,"l":0.82003,"c":0.82066,"m":0.000115},
{"i":359,"o":0.82064,"h":0.82070,"l":0.82026,"c":0.82033,"m":0.000110},
{"i":360,"o":0.82033,"h":0.82046,"l":0.81983,"c":0.82042,"m":0.000120},
{"i":361,"o":0.82042,"h":0.82063,"l":0.82040,"c":0.82044,"m":0.000129},
{"i":362,"o":0.82044,"h":0.82133,"l":0.82040,"c":0.82130,"m":0.000125},
{"i":363,"o":0.82128,"h":0.82148,"l":0.82106,"c":0.82111,"m":0.000080},
{"i":364,"o":0.82113,"h":0.82118,"l":0.82026,"c":0.82028,"m":0.000037},
{"i":365,"o":0.82031,"h":0.82033,"l":0.81983,"c":0.81993,"m":0.000037},
{"i":366,"o":0.81990,"h":0.82046,"l":0.81983,"c":0.82044,"m":0.000030},
{"i":367,"o":0.82043,"h":0.82066,"l":0.82023,"c":0.82056,"m":0.000020},
{"i":368,"o":0.82060,"h":0.82064,"l":0.82022,"c":0.82024,"m":-0.000030},
{"i":369,"o":0.82028,"h":0.82030,"l":0.81971,"c":0.81973,"m":-0.000060},
{"i":370,"o":0.81971,"h":0.82000,"l":0.81946,"c":0.81980,"m":-0.000100},
{"i":371,"o":0.81978,"h":0.81980,"l":0.81943,"c":0.81946,"m":-0.000130},
{"i":372,"o":0.81948,"h":0.81953,"l":0.81910,"c":0.81931,"m":-0.000160},
{"i":373,"o":0.81933,"h":0.81936,"l":0.81880,"c":0.81882,"m":-0.000175},
{"i":374,"o":0.81884,"h":0.81913,"l":0.81882,"c":0.81903,"m":-0.000180},
{"i":375,"o":0.81902,"h":0.81920,"l":0.81898,"c":0.81915,"m":-0.000160},
{"i":376,"o":0.81913,"h":0.81993,"l":0.81906,"c":0.81984,"m":-0.000110},
{"i":377,"o":0.81983,"h":0.82016,"l":0.81980,"c":0.82010,"m":-0.000040},
{"i":378,"o":0.82010,"h":0.82020,"l":0.82003,"c":0.82018,"m":0.000040},
{"i":379,"o":0.82018,"h":0.82023,"l":0.81970,"c":0.81971,"m":0.000060},
{"i":380,"o":0.81973,"h":0.82000,"l":0.81956,"c":0.81998,"m":0.000080},
{"i":381,"o":0.81996,"h":0.82060,"l":0.81993,"c":0.82033,"m":0.000095},
{"i":382,"o":0.82031,"h":0.82064,"l":0.82010,"c":0.82015,"m":0.000106},
{"i":383,"o":0.82015,"h":0.82063,"l":0.81986,"c":0.82060,"m":0.000150},
{"i":384,"o":0.82060,"h":0.82156,"l":0.82056,"c":0.82153,"m":0.000207},
{"i":385,"o":0.82155,"h":0.82243,"l":0.82142,"c":0.82240,"m":0.000300},
{"i":386,"o":0.82238,"h":0.82271,"l":0.82206,"c":0.82240,"m":0.000336},
{"i":387,"o":0.82238,"h":0.82290,"l":0.82215,"c":0.82282,"m":0.000336},
{"i":388,"o":0.82282,"h":0.82323,"l":0.82275,"c":0.82320,"m":0.000380},
{"i":389,"o":0.82316,"h":0.82408,"l":0.82311,"c":0.82388,"m":0.000475},
{"i":390,"o":0.82386,"h":0.82408,"l":0.82323,"c":0.82326,"m":0.000440},
{"i":391,"o":0.82330,"h":0.82333,"l":0.82260,"c":0.82290,"m":0.000405},
{"i":392,"o":0.82288,"h":0.82306,"l":0.82280,"c":0.82303,"m":0.000340},
{"i":393,"o":0.82303,"h":0.82333,"l":0.82278,"c":0.82330,"m":0.000260},
{"i":394,"o":0.82328,"h":0.82373,"l":0.82318,"c":0.82371,"m":0.000221},
{"i":395,"o":0.82366,"h":0.82423,"l":0.82363,"c":0.82406,"m":0.000221},
{"i":396,"o":0.82404,"h":0.82423,"l":0.82371,"c":0.82422,"m":0.000221},
{"i":397,"o":0.82416,"h":0.82456,"l":0.82413,"c":0.82431,"m":0.000210},
{"i":398,"o":0.82431,"h":0.82446,"l":0.82403,"c":0.82404,"m":0.000180},
{"i":399,"o":0.82406,"h":0.82420,"l":0.82356,"c":0.82368,"m":0.000152},
{"i":400,"o":0.82368,"h":0.82370,"l":0.82348,"c":0.82355,"m":-0.000040},
{"i":401,"o":0.82353,"h":0.82406,"l":0.82344,"c":0.82356,"m":-0.000100},
{"i":402,"o":0.82358,"h":0.82368,"l":0.82335,"c":0.82353,"m":-0.000120},
{"i":403,"o":0.82353,"h":0.82375,"l":0.82343,"c":0.82360,"m":-0.000140},
{"i":404,"o":0.82360,"h":0.82378,"l":0.82348,"c":0.82350,"m":-0.000150}
],
"macd":[
{"i":0,"v":0.000378},{"i":2,"v":0.000562},{"i":4,"v":0.000691},{"i":6,"v":0.000654},{"i":9,"v":0.000516},{"i":12,"v":0.000355},{"i":16,"v":0.000055},{"i":18,"v":-0.000313},{"i":21,"v":-0.000521},{"i":25,"v":-0.000636},{"i":27,"v":-0.000627},{"i":29,"v":-0.000475},{"i":31,"v":-0.000396},{"i":35,"v":-0.000429},{"i":37,"v":-0.00029},{"i":41,"v":-0.000258},{"i":44,"v":-0.000304},{"i":47,"v":-0.000212},{"i":50,"v":-0.000323},{"i":54,"v":-0.00029},{"i":57,"v":-0.000014},{"i":60,"v":0.000217},{"i":64,"v":0.000447},{"i":68,"v":0.000724},{"i":71,"v":0.000562},{"i":75,"v":0.000645},{"i":79,"v":0.000691},{"i":82,"v":0.000664},{"i":85,"v":0.000332},{"i":88,"v":0.000078},{"i":90,"v":0.000046},{"i":93,"v":0.000101},{"i":97,"v":0.000101},{"i":100,"v":0.000032},{"i":102,"v":0},{"i":105,"v":0.000194},{"i":109,"v":0.000323},{"i":113,"v":0.00024},{"i":117,"v":0.000263},{"i":119,"v":0.00023},{"i":123,"v":0.000309},{"i":126,"v":0.000332},{"i":130,"v":0.000295},{"i":134,"v":0.000032},{"i":138,"v":0.000286},{"i":143,"v":0.000309},{"i":146,"v":0.000461},{"i":149,"v":0.000309},{"i":152,"v":0.000055},{"i":155,"v":0.000009},{"i":160,"v":0.000184},{"i":163,"v":0.000129},{"i":166,"v":0.000198},{"i":168,"v":0.000212},{"i":171,"v":0.000106},{"i":174,"v":-0.000032},{"i":177,"v":-0.000124},{"i":179,"v":-0.000401},{"i":182,"v":-0.000484},{"i":185,"v":-0.000502},{"i":188,"v":-0.000456},{"i":191,"v":-0.000484},{"i":194,"v":-0.00047},{"i":196,"v":-0.000585},{"i":198,"v":-0.000562},{"i":200,"v":-0.000516},{"i":203,"v":-0.000678},{"i":205,"v":-0.000899},{"i":207,"v":-0.000931},{"i":210,"v":-0.000839},{"i":213,"v":-0.000724},{"i":216,"v":-0.000549},{"i":218,"v":-0.000632},{"i":219,"v":-0.000839},{"i":222,"v":-0.000908},{"i":224,"v":-0.00107},{"i":227,"v":-0.000954},{"i":230,"v":-0.000747},{"i":234,"v":-0.000655},{"i":238,"v":-0.000447},{"i":241,"v":-0.000263},{"i":243,"v":-0.000032},{"i":246,"v":0.000406},{"i":249,"v":0.000705},{"i":252,"v":0.000844},{"i":255,"v":0.00089},{"i":257,"v":0.000797},{"i":260,"v":0.000613},{"i":262,"v":0.000383},{"i":264,"v":-0.000078},{"i":267,"v":-0.000447},{"i":269,"v":-0.000668},{"i":272,"v":-0.00077},{"i":276,"v":-0.000632},{"i":278,"v":-0.000562},{"i":280,"v":-0.000309},{"i":282,"v":-0.000171},{"i":286,"v":0.000014},{"i":289,"v":0.000198},{"i":292,"v":0.00029},{"i":295,"v":0.000429},{"i":298,"v":0.000313},{"i":300,"v":0.000286},{"i":302,"v":0.000124},{"i":305,"v":0.000101},{"i":307,"v":0.000009},{"i":310,"v":-0.000129},{"i":312,"v":-0.000286},{"i":315,"v":-0.000332},{"i":318,"v":-0.000489},{"i":320,"v":-0.000489},{"i":322,"v":-0.000521},{"i":325,"v":-0.000429},{"i":328,"v":-0.000313},{"i":331,"v":-0.000277},{"i":333,"v":-0.000332},{"i":336,"v":-0.000447},{"i":338,"v":-0.000516},{"i":340,"v":-0.000678},{"i":341,"v":-0.00071},{"i":343,"v":-0.000678},{"i":346,"v":-0.000493},{"i":349,"v":-0.000378},{"i":351,"v":-0.000263},{"i":355,"v":-0.000212},{"i":357,"v":-0.000129},{"i":361,"v":-0.00006},{"i":363,"v":0.000055},{"i":366,"v":0},{"i":368,"v":-0.000014},{"i":371,"v":-0.000152},{"i":373,"v":-0.000332},{"i":375,"v":-0.000392},{"i":377,"v":-0.000313},{"i":379,"v":-0.000221},{"i":381,"v":-0.000198},{"i":383,"v":-0.000032},{"i":386,"v":0.000355},{"i":388,"v":0.000655},{"i":390,"v":0.000931},{"i":393,"v":0.00094},{"i":396,"v":0.001046},{"i":398,"v":0.001102},{"i":400,"v":0.001046},{"i":402,"v":0.000862},{"i":404,"v":0.000738}
],
"signal":[
{"i":0,"v":0.000332},{"i":6,"v":0.000553},{"i":9,"v":0.000539},{"i":12,"v":0.000424},{"i":16,"v":0.000194},{"i":18,"v":-0.000037},{"i":21,"v":-0.000267},{"i":25,"v":-0.000475},{"i":28,"v":-0.000521},{"i":32,"v":-0.000443},{"i":37,"v":-0.000383},{"i":43,"v":-0.000304},{"i":48,"v":-0.000267},{"i":52,"v":-0.00029},{"i":55,"v":-0.000277},{"i":58,"v":-0.000083},{"i":62,"v":0.00023},{"i":67,"v":0.000433},{"i":70,"v":0.000539},{"i":75,"v":0.000572},{"i":80,"v":0.000645},{"i":84,"v":0.000562},{"i":88,"v":0.000263},{"i":91,"v":0.000171},{"i":96,"v":0.000124},{"i":99,"v":0.000078},{"i":103,"v":0.000046},{"i":106,"v":0.000101},{"i":110,"v":0.00023},{"i":116,"v":0.000249},{"i":122,"v":0.000277},{"i":127,"v":0.000309},{"i":130,"v":0.000286},{"i":134,"v":0.000148},{"i":138,"v":0.000194},{"i":144,"v":0.000277},{"i":147,"v":0.000332},{"i":151,"v":0.000263},{"i":155,"v":0.000101},{"i":160,"v":0.000101},{"i":162,"v":0.000129},{"i":168,"v":0.000184},{"i":172,"v":0.000115},{"i":175,"v":0},{"i":179,"v":-0.000171},{"i":182,"v":-0.000309},{"i":185,"v":-0.000392},{"i":189,"v":-0.000438},{"i":194,"v":-0.00047},{"i":198,"v":-0.00053},{"i":201,"v":-0.000539},{"i":205,"v":-0.000678},{"i":209,"v":-0.000816},{"i":212,"v":-0.000816},{"i":218,"v":-0.000668},{"i":222,"v":-0.000839},{"i":227,"v":-0.000954},{"i":232,"v":-0.000816},{"i":237,"v":-0.000632},{"i":241,"v":-0.000401},{"i":244,"v":-0.000171},{"i":246,"v":0.000014},{"i":250,"v":0.000406},{"i":254,"v":0.000613},{"i":257,"v":0.000742},{"i":260,"v":0.00071},{"i":263,"v":0.000613},{"i":265,"v":0.00045},{"i":267,"v":0.00027},{"i":269,"v":0.00006},{"i":271,"v":-0.00018},{"i":273,"v":-0.00038},{"i":276,"v":-0.00053},{"i":278,"v":-0.000576},{"i":280,"v":-0.0005},{"i":284,"v":-0.000263},{"i":288,"v":-0.000078},{"i":291,"v":0.000106},{"i":295,"v":0.000267},{"i":299,"v":0.00029},{"i":303,"v":0.000207},{"i":306,"v":0.000106},{"i":310,"v":-0.000037},{"i":314,"v":-0.000198},{"i":319,"v":-0.000332},{"i":323,"v":-0.000438},{"i":327,"v":-0.000401},{"i":332,"v":-0.000332},{"i":336,"v":-0.000355},{"i":339,"v":-0.000447},{"i":342,"v":-0.000585},{"i":345,"v":-0.000585},{"i":349,"v":-0.00047},{"i":353,"v":-0.000332},{"i":357,"v":-0.00024},{"i":361,"v":-0.000152},{"i":364,"v":-0.000032},{"i":368,"v":-0.000032},{"i":372,"v":-0.000101},{"i":376,"v":-0.00024},{"i":379,"v":-0.000263},{"i":382,"v":-0.000212},{"i":385,"v":-0.000078},{"i":387,"v":0.000194},{"i":390,"v":0.000447},{"i":393,"v":0.000678},{"i":396,"v":0.000862},{"i":399,"v":0.000963},{"i":401,"v":0.000954},{"i":404,"v":0.000876}
],
"zone":[{"i1":0.1,"i2":404.6,"p1":0.829334,"p2":0.828234}],
"trend":[{"i":48.9,"p":0.82243},{"i":221.4,"p":0.82945}],
"dots":[{"i":223.05,"p":0.82042},{"i":255.4,"p":0.8256}],
"arrow":[{"i":255.7,"p":0.82565},{"i":339.9,"p":0.81834}],
"arrowhead":[{"i":340.4,"p":0.81829}],
"texts":[{"i":4.3,"p":0.82974,"t":"NZDCAD,M15"}],
"tri":[{"i":2.0,"p":0.82974,"t":"▼"}],
"wm":[{"i":195.55,"p":0.81899,"t":"WWW.HOMETRADERCLUB.COM"}],
"mlabel":[{"i":1.1,"v":0.001073,"t":"MACD(12,26,9) -0.000436 -0.000263 0.000000 -0.000173"}]
},
"resolve":{"scale":{"x":"independent","y":"independent"}},
"vconcat":[
{"width":1619,"height":599,
"layer":[
{"data":{"name":"candles"},"mark":{"type":"rule","strokeWidth":1},
 "encoding":{"x":{"field":"i","type":"quantitative","scale":{"domain":[-0.125,404.625],"nice":false,"zero":false},"axis":null},
 "y":{"field":"l","type":"quantitative","scale":{"domain":[0.817974,0.829954],"nice":false,"zero":false},
   "axis":{"orient":"right","values":[0.8184,0.8194,0.8204,0.8214,0.8224,0.8234,0.8244,0.8254,0.8264,0.8274,0.8284,0.8294],"format":".5f","labelPadding":4,"labelBaseline":"middle"}},
 "y2":{"field":"h"},
 "color":{"condition":[{"test":"datum.c > datum.o","value":"#00ffff"},{"test":"datum.c == datum.o","value":"#00ff00"}],"value":"#ff0000"}}},
{"data":{"name":"candles"},"mark":{"type":"bar","width":2,"strokeWidth":1},
 "encoding":{"x":{"field":"i","type":"quantitative","scale":{"domain":[-0.125,404.625],"nice":false,"zero":false}},
 "y":{"field":"o","type":"quantitative","scale":{"domain":[0.817974,0.829954],"nice":false,"zero":false}},
 "y2":{"field":"c"},
 "color":{"condition":[{"test":"datum.c > datum.o","value":"#00ffff"},{"test":"datum.c == datum.o","value":"#00ff00"}],"value":"#ff0000"},
 "stroke":{"condition":[{"test":"datum.c > datum.o","value":"#00ffff"},{"test":"datum.c == datum.o","value":"#00ff00"}],"value":"#ff0000"}}},
{"data":{"name":"zone"},"mark":{"type":"rect","filled":false,"stroke":"#ff4545","strokeWidth":3},
 "encoding":{"x":{"field":"i1","type":"quantitative","scale":{"domain":[-0.125,404.625],"nice":false,"zero":false}},"x2":{"field":"i2"},
 "y":{"field":"p1","type":"quantitative","scale":{"domain":[0.817974,0.829954],"nice":false,"zero":false}},"y2":{"field":"p2"}}},
{"data":{"name":"trend"},"mark":{"type":"line","color":"#239b23","strokeWidth":4,"strokeCap":"round"},
 "encoding":{"x":{"field":"i","type":"quantitative","scale":{"domain":[-0.125,404.625],"nice":false,"zero":false}},
 "y":{"field":"p","type":"quantitative","scale":{"domain":[0.817974,0.829954],"nice":false,"zero":false}}}},
{"data":{"name":"dots"},"mark":{"type":"line","color":"#ffffff","strokeWidth":4,"strokeDash":[4,4]},
 "encoding":{"x":{"field":"i","type":"quantitative","scale":{"domain":[-0.125,404.625],"nice":false,"zero":false}},
 "y":{"field":"p","type":"quantitative","scale":{"domain":[0.817974,0.829954],"nice":false,"zero":false}}}},
{"data":{"name":"arrow"},"mark":{"type":"line","color":"#e8ee00","strokeWidth":5,"strokeCap":"round"},
 "encoding":{"x":{"field":"i","type":"quantitative","scale":{"domain":[-0.125,404.625],"nice":false,"zero":false}},
 "y":{"field":"p","type":"quantitative","scale":{"domain":[0.817974,0.829954],"nice":false,"zero":false}}}},
{"data":{"name":"arrowhead"},"mark":{"type":"point","shape":"triangle-right","filled":true,"color":"#e8ee00","size":70,"angle":47,"opacity":1},
 "encoding":{"x":{"field":"i","type":"quantitative","scale":{"domain":[-0.125,404.625],"nice":false,"zero":false}},
 "y":{"field":"p","type":"quantitative","scale":{"domain":[0.817974,0.829954],"nice":false,"zero":false}}}},
{"data":{"name":"texts"},"mark":{"type":"text","align":"left","baseline":"middle","color":"#ffffff","fontSize":11,"font":"DejaVu Sans"},
 "encoding":{"x":{"field":"i","type":"quantitative","scale":{"domain":[-0.125,404.625],"nice":false,"zero":false}},
 "y":{"field":"p","type":"quantitative","scale":{"domain":[0.817974,0.829954],"nice":false,"zero":false}},"text":{"field":"t"}}},
{"data":{"name":"tri"},"mark":{"type":"text","align":"center","baseline":"middle","color":"#ffffff","fontSize":8,"font":"DejaVu Sans"},
 "encoding":{"x":{"field":"i","type":"quantitative","scale":{"domain":[-0.125,404.625],"nice":false,"zero":false}},
 "y":{"field":"p","type":"quantitative","scale":{"domain":[0.817974,0.829954],"nice":false,"zero":false}},"text":{"field":"t"}}},
{"data":{"name":"wm"},"mark":{"type":"text","align":"center","baseline":"middle","color":"#1ee61e","fontSize":28,"font":"DejaVu Sans Mono","fontWeight":"bold"},
 "encoding":{"x":{"field":"i","type":"quantitative","scale":{"domain":[-0.125,404.625],"nice":false,"zero":false}},
 "y":{"field":"p","type":"quantitative","scale":{"domain":[0.817974,0.829954],"nice":false,"zero":false}},"text":{"field":"t"}}}
]},
{"width":1619,"height":174,
"layer":[
{"data":{"name":"candles"},"mark":{"type":"bar","width":3},
 "encoding":{"x":{"field":"i","type":"quantitative","scale":{"domain":[-0.125,404.625],"nice":false,"zero":false},
   "axis":{"orient":"bottom","values":[0,24,48,72,96,120,144,168,192,216,240,264,288,312,336,360,384],
   "labelExpr":"['5 May 2025','5 May 21:00','6 May 03:15','6 May 09:15','6 May 15:15','6 May 21:15','7 May 03:30','7 May 09:30','7 May 15:30','7 May 21:30','8 May 03:45','8 May 09:45','8 May 15:45','8 May 21:45','9 May 04:00','9 May 10:00','9 May 16:00'][round(datum.value/24)]",
   "labelAlign":"left","labelBaseline":"top","labelPadding":0,"labelFlush":false,"labelOverlap":false}},
 "y":{"field":"m","type":"quantitative","scale":{"domain":[-0.001185,0.001221],"nice":false,"zero":false},
   "axis":{"orient":"right","values":[0.001097,0,-0.001072],"labelExpr":"datum.value > 0.001 ? '0.001097' : (datum.value < -0.001 ? '-0.001072' : '0.00')","labelPadding":1.5,"labelBaseline":"middle"}},
 "y2":{"datum":0},
 "color":{"condition":{"test":"datum.m > 0","value":"#008c00"},"value":"#ff0000"}}},
{"data":{"name":"macd"},"mark":{"type":"line","color":"#0000ff","strokeWidth":2},
 "encoding":{"x":{"field":"i","type":"quantitative","scale":{"domain":[-0.125,404.625],"nice":false,"zero":false}},
 "y":{"field":"v","type":"quantitative","scale":{"domain":[-0.001185,0.001221],"nice":false,"zero":false}}}},
{"data":{"name":"signal"},"mark":{"type":"line","color":"#ff0000","strokeWidth":1},
 "encoding":{"x":{"field":"i","type":"quantitative","scale":{"domain":[-0.125,404.625],"nice":false,"zero":false}},
 "y":{"field":"v","type":"quantitative","scale":{"domain":[-0.001185,0.001221],"nice":false,"zero":false}}}},
{"data":{"name":"mlabel"},"mark":{"type":"text","align":"left","baseline":"middle","color":"#ffffff","fontSize":11,"font":"DejaVu Sans"},
 "encoding":{"x":{"field":"i","type":"quantitative","scale":{"domain":[-0.125,404.625],"nice":false,"zero":false}},
 "y":{"field":"v","type":"quantitative","scale":{"domain":[-0.001185,0.001221],"nice":false,"zero":false}},"text":{"field":"t"}}}
]}
]
}
